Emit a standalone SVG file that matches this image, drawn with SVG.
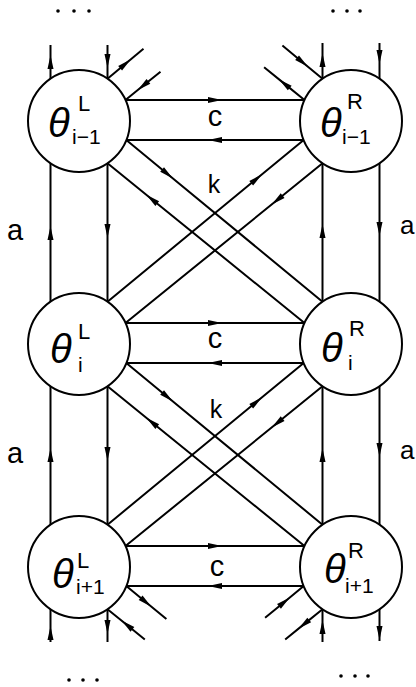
<svg xmlns="http://www.w3.org/2000/svg" width="416" height="687" viewBox="0 0 416 687">
<style>
.ln{stroke:#000;stroke-width:2;fill:none;marker-mid:url(#ah)}
.nd{fill:#fff;stroke:#000;stroke-width:2}
.th{font-family:"Liberation Sans",Arial,sans-serif;font-style:italic;font-size:40px;fill:#000}
.sp{font-family:"Liberation Sans",Arial,sans-serif;font-size:22px;fill:#000}
.sb{font-family:"Liberation Sans",Arial,sans-serif;font-size:21px;fill:#000}
.lb{font-family:"Liberation Sans",Arial,sans-serif;font-size:29px;fill:#000}
.lr{font-family:"Liberation Sans",Arial,sans-serif;font-size:26px;fill:#000}
.lk{font-family:"Liberation Sans",Arial,sans-serif;font-size:25px;fill:#000}
.dot{fill:#000}
</style>
<defs>
<marker id="ah" viewBox="-8 -4 16 8" refX="0" refY="0" markerWidth="16" markerHeight="8" markerUnits="userSpaceOnUse" orient="auto"><path d="M7,0 L-7,-3 L-7,3 z" fill="#000"/></marker>
</defs>
<rect width="416" height="687" fill="#fff"/>
<g id="connectors">
<path class="ln" d="M125.5,100 L215,100 L304.5,100"/>
<path class="ln" d="M303.7,140 L215,140 L126.3,140"/>
<path class="ln" d="M125.5,323 L215,323 L304.5,323"/>
<path class="ln" d="M303.7,363 L215,363 L126.3,363"/>
<path class="ln" d="M125.5,546 L215,546 L304.5,546"/>
<path class="ln" d="M303.7,586 L215,586 L126.3,586"/>
<path class="ln" d="M50.5,301.7 L50.5,233 L50.5,163.3"/>
<path class="ln" d="M107.5,163.3 L107.5,231 L107.5,301.7"/>
<path class="ln" d="M322.5,301.7 L322.5,231 L322.5,163.3"/>
<path class="ln" d="M379.5,163.3 L379.5,229 L379.5,301.7"/>
<path class="ln" d="M50.5,524.7 L50.5,455 L50.5,386.3"/>
<path class="ln" d="M107.5,386.3 L107.5,454 L107.5,524.7"/>
<path class="ln" d="M322.5,524.7 L322.5,455 L322.5,386.3"/>
<path class="ln" d="M379.5,386.3 L379.5,450 L379.5,524.7"/>
<path class="ln" d="M126.3,140 L167.5,174 L322.5,301.7"/>
<path class="ln" d="M304.5,323 L151.8,199.2 L107.5,163.3"/>
<path class="ln" d="M107.5,301.7 L256.6,178.8 L303.7,140"/>
<path class="ln" d="M322.5,163.3 L277.2,200 L125.5,323"/>
<path class="ln" d="M126.3,363 L167.5,397 L322.5,524.7"/>
<path class="ln" d="M304.5,546 L151.8,422.2 L107.5,386.3"/>
<path class="ln" d="M107.5,524.7 L256.6,401.8 L303.7,363"/>
<path class="ln" d="M322.5,386.3 L277.2,423 L125.5,546"/>
<path class="ln" d="M50.5,78.7 L50.5,62 L50.5,45"/>
<path class="ln" d="M107.5,45 L107.5,61 L107.5,78.7"/>
<path class="ln" d="M107.5,78.7 L125.5,63.7 L143.5,48.7"/>
<path class="ln" d="M160.5,71.7 L143,85.8 L125.5,100"/>
<path class="ln" d="M322.5,78.7 L322.5,60 L322.5,43"/>
<path class="ln" d="M379.5,43 L379.5,57 L379.5,78.7"/>
<path class="ln" d="M282.4,45.6 L302.5,62.2 L322.5,78.7"/>
<path class="ln" d="M304.5,100 L284.3,83.6 L264.1,67.2"/>
<path class="ln" d="M50.5,642 L50.5,633 L50.5,609.3"/>
<path class="ln" d="M107.5,609.3 L107.5,627 L107.5,642"/>
<path class="ln" d="M126.3,586 L146,602.2 L166.4,619"/>
<path class="ln" d="M144.8,639.5 L127,625 L107.5,609.3"/>
<path class="ln" d="M322.5,642 L322.5,627 L322.5,609.3"/>
<path class="ln" d="M379.5,609.3 L379.5,633 L379.5,641"/>
<path class="ln" d="M265.1,617.8 L284.4,601.9 L303.7,586"/>
<path class="ln" d="M322.5,609.3 L303.8,624.4 L285.2,639.5"/>
</g>
<g id="labels">
<text class="lb" x="15" y="240" text-anchor="middle">a</text>
<text class="lb" x="15" y="463" text-anchor="middle">a</text>
<text class="lr" x="400" y="234">a</text>
<text class="lr" x="400" y="459">a</text>
<text class="lb" x="215" y="126" text-anchor="middle">c</text>
<text class="lb" x="215" y="348" text-anchor="middle">c</text>
<text class="lb" x="217" y="576" text-anchor="middle">c</text>
<text class="lk" x="214" y="193" text-anchor="middle">k</text>
<text class="lk" x="216" y="418" text-anchor="middle">k</text>
</g>
<g id="ellipses">
<circle class="dot" cx="58" cy="11" r="1.8"/><circle class="dot" cx="74" cy="11" r="1.8"/><circle class="dot" cx="89" cy="11" r="1.8"/>
<circle class="dot" cx="333" cy="11" r="1.8"/><circle class="dot" cx="347" cy="11" r="1.8"/><circle class="dot" cx="360" cy="11" r="1.8"/>
<circle class="dot" cx="69" cy="680" r="1.8"/><circle class="dot" cx="83" cy="680" r="1.8"/><circle class="dot" cx="97" cy="680" r="1.8"/>
<circle class="dot" cx="341" cy="676" r="1.8"/><circle class="dot" cx="355" cy="676" r="1.8"/><circle class="dot" cx="368" cy="676" r="1.8"/>
</g>
<g id="node-L-im1">
<circle class="nd" cx="79" cy="121" r="51"/>
<text class="th" x="48" y="137">θ</text><text class="sp" x="78" y="111">L</text><text class="sb" x="72" y="144">i−1</text>
</g>
<g id="node-R-im1">
<circle class="nd" cx="351" cy="121" r="51"/>
<text class="th" x="320" y="137">θ</text><text class="sp" x="347" y="109">R</text><text class="sb" x="342" y="144">i−1</text>
</g>
<g id="node-L-i">
<circle class="nd" cx="79" cy="344" r="51"/>
<text class="th" x="50" y="363">θ</text><text class="sp" x="78" y="339">L</text><text class="sb" x="78" y="372">i</text>
</g>
<g id="node-R-i">
<circle class="nd" cx="351" cy="344" r="51"/>
<text class="th" x="321" y="362">θ</text><text class="sp" x="349" y="336">R</text><text class="sb" x="348" y="370">i</text>
</g>
<g id="node-L-ip1">
<circle class="nd" cx="79" cy="567" r="51"/>
<text class="th" x="52" y="588">θ</text><text class="sp" x="77" y="568">L</text><text class="sb" x="76" y="594">i+1</text>
</g>
<g id="node-R-ip1">
<circle class="nd" cx="351" cy="567" r="51"/>
<text class="th" x="324" y="583">θ</text><text class="sp" x="348" y="558">R</text><text class="sb" x="345" y="593">i+1</text>
</g>
</svg>
